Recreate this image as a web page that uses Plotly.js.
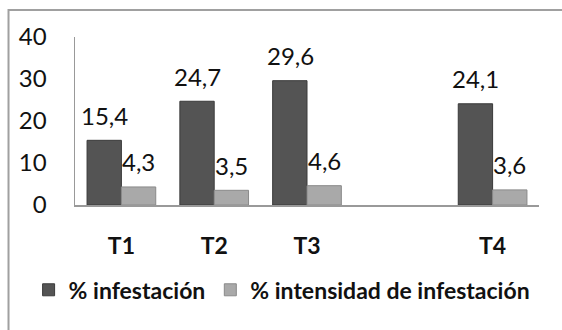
<!DOCTYPE html>
<html>
<head>
<meta charset="utf-8">
<script src="https://cdn.plot.ly/plotly-3.0.1.min.js"></script>
<style>html,body{margin:0;padding:0;background:#fff}#chart{width:562px;height:330px}</style>
</head>
<body>
<div id="chart"></div>
<script>
const categories = ['T1', 'T2', 'T3', 'T4'];
const axisOrder = ['T1', 'T2', 'T3', ' ', 'T4'];
const seriesNames = ['% infestación', '% intensidad de infestación'];
const infestacion = [15.4, 24.7, 29.6, 24.1];
const intensidad = [4.3, 3.5, 4.6, 3.6];
const yTicks = [0, 10, 20, 30, 40];

const fmt = v => v.toFixed(1).replace('.', ',');
const FONT = 'Lato, "Open Sans", sans-serif';

const traces = [
  {type: 'bar', name: seriesNames[0], x: categories, y: infestacion,
   marker: {color: '#545454', line: {color: '#3a3a3a', width: 1}}, hoverinfo: 'none'},
  {type: 'bar', name: seriesNames[1], x: categories, y: intensidad,
   marker: {color: '#a9a9a9', line: {color: '#8a8a8a', width: 1}}, hoverinfo: 'none'}
];

const annotations = [];
[infestacion, intensidad].forEach((vals, s) => {
  vals.forEach((v, i) => {
    annotations.push({x: categories[i], y: v, xref: 'x', yref: 'y', text: fmt(v),
      showarrow: false, xshift: s === 0 ? -17 : 17, yshift: 25, yanchor: 'middle',
      font: {family: FONT, size: 24, color: '#111'}});
  });
});

const layout = {
  width: 562, height: 330,
  margin: {l: 75, r: 23, t: 37, b: 125, pad: 0},
  paper_bgcolor: '#fff', plot_bgcolor: '#fff',
  barmode: 'group', bargap: 0.26, bargroupgap: 0,
  showlegend: true,
  legend: {orientation: 'h', x: -0.1, xanchor: 'left', y: -0.505, yanchor: 'middle',
    font: {family: FONT, size: 23, color: '#111', weight: 'bold'}, itemwidth: 30,
    tracegroupgap: 0, traceorder: 'normal'},
  xaxis: {type: 'category', categoryorder: 'array', categoryarray: axisOrder,
    range: [-0.5, 4.5], showline: true, linecolor: '#999', linewidth: 1.5,
    ticks: 'outside', ticklen: 20, tickcolor: 'rgba(0,0,0,0)', showgrid: false, zeroline: false,
    tickfont: {family: FONT, size: 23, color: '#111', weight: 'bold'}},
  yaxis: {range: [0, 40], tickvals: yTicks, ticktext: yTicks.map(String),
    showline: true, linecolor: '#999', linewidth: 1.5,
    ticks: 'outside', ticklen: 22, tickcolor: 'rgba(0,0,0,0)', showgrid: false, zeroline: false,
    tickfont: {family: FONT, size: 24, color: '#111'}},
  annotations: annotations,
  shapes: [{type: 'rect', xref: 'paper', yref: 'paper', x0: -0.1433, x1: 1.08,
    y0: -0.8, y1: 1.1607, line: {color: '#a0a0a0', width: 2}, fillcolor: 'rgba(0,0,0,0)', layer: 'below'}]
};

Plotly.newPlot('chart', traces, layout, {displayModeBar: false, staticPlot: true});
</script>
</body>
</html>
